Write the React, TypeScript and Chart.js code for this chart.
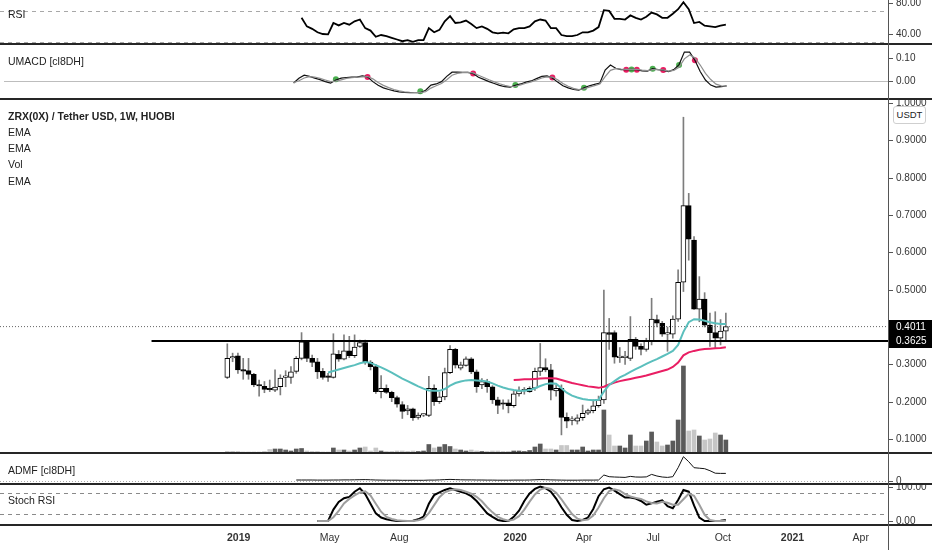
import { useEffect, useRef } from "react";
import { Chart, registerables } from "chart.js";

Chart.register(...registerables);

const FONT = "'Liberation Sans', Arial, sans-serif";
const DAY = 86400000;
const ORIGIN = Date.UTC(2019, 0, 1);
const dayOf = (t: number) => (t - ORIGIN) / DAY;

// visible time window and the bottom axis ticks
const X_MIN = dayOf(Date.UTC(2018, 1, 20));
const X_MAX = dayOf(Date.UTC(2021, 4, 7));
const tickDates = [
  Date.UTC(2019, 0, 1), Date.UTC(2019, 4, 1), Date.UTC(2019, 7, 1),
  Date.UTC(2020, 0, 1), Date.UTC(2020, 3, 1), Date.UTC(2020, 6, 1),
  Date.UTC(2020, 9, 1), Date.UTC(2021, 0, 1), Date.UTC(2021, 3, 1),
];
const tickLabels = ["2019", "May", "Aug", "2020", "Apr", "Jul", "Oct", "2021", "Apr"];

// ZRX/USDT weekly candles, first bar = week of 2018-12-17
const FIRST_WEEK = Date.UTC(2018, 11, 17);
const open = [
  0.265, 0.317, 0.323, 0.284, 0.283, 0.273, 0.244, 0.241, 0.233, 0.231,
  0.240, 0.265, 0.265, 0.281, 0.316, 0.360, 0.316, 0.307, 0.281, 0.266,
  0.265, 0.327, 0.314, 0.336, 0.323, 0.348, 0.358, 0.306, 0.294, 0.227,
  0.236, 0.225, 0.211, 0.192, 0.175, 0.181, 0.158, 0.164, 0.163, 0.236,
  0.200, 0.213, 0.278, 0.340, 0.290, 0.297, 0.315, 0.280, 0.245, 0.254,
  0.240, 0.205, 0.194, 0.197, 0.189, 0.221, 0.229, 0.227, 0.236, 0.281,
  0.291, 0.285, 0.229, 0.236, 0.158, 0.150, 0.148, 0.157, 0.169, 0.176,
  0.189, 0.205, 0.385, 0.385, 0.318, 0.318, 0.316, 0.367, 0.348, 0.340,
  0.361, 0.420, 0.410, 0.381, 0.381, 0.421, 0.520, 0.725, 0.633, 0.448,
  0.475, 0.405, 0.385, 0.370, 0.389,
];
const high = [
  0.355, 0.330, 0.330, 0.316, 0.316, 0.276, 0.258, 0.254, 0.258, 0.285,
  0.272, 0.283, 0.294, 0.321, 0.385, 0.364, 0.325, 0.316, 0.289, 0.276,
  0.382, 0.337, 0.379, 0.375, 0.379, 0.365, 0.365, 0.310, 0.300, 0.270,
  0.245, 0.228, 0.215, 0.200, 0.190, 0.183, 0.170, 0.167, 0.268, 0.245,
  0.225, 0.290, 0.350, 0.343, 0.306, 0.320, 0.318, 0.285, 0.262, 0.260,
  0.243, 0.212, 0.205, 0.205, 0.228, 0.240, 0.238, 0.240, 0.290, 0.356,
  0.315, 0.300, 0.245, 0.245, 0.170, 0.160, 0.165, 0.191, 0.180, 0.205,
  0.215, 0.499, 0.423, 0.390, 0.345, 0.335, 0.428, 0.372, 0.355, 0.370,
  0.477, 0.432, 0.415, 0.400, 0.430, 0.553, 0.962, 0.758, 0.642, 0.535,
  0.492, 0.437, 0.441, 0.420, 0.437,
];
const low = [
  0.262, 0.307, 0.276, 0.260, 0.260, 0.240, 0.215, 0.224, 0.227, 0.227,
  0.218, 0.240, 0.249, 0.276, 0.312, 0.307, 0.294, 0.262, 0.260, 0.254,
  0.263, 0.308, 0.312, 0.318, 0.318, 0.345, 0.300, 0.285, 0.222, 0.210,
  0.222, 0.200, 0.185, 0.155, 0.165, 0.150, 0.153, 0.160, 0.160, 0.190,
  0.195, 0.205, 0.275, 0.290, 0.285, 0.295, 0.275, 0.225, 0.235, 0.225,
  0.195, 0.168, 0.180, 0.170, 0.185, 0.215, 0.220, 0.225, 0.230, 0.270,
  0.280, 0.205, 0.215, 0.111, 0.130, 0.138, 0.140, 0.150, 0.165, 0.170,
  0.185, 0.195, 0.340, 0.303, 0.305, 0.300, 0.310, 0.340, 0.325, 0.335,
  0.352, 0.400, 0.375, 0.335, 0.370, 0.415, 0.495, 0.579, 0.447, 0.414,
  0.400, 0.348, 0.345, 0.352, 0.365,
];
const close = [
  0.316, 0.320, 0.285, 0.282, 0.273, 0.245, 0.242, 0.233, 0.232, 0.239,
  0.263, 0.266, 0.280, 0.316, 0.360, 0.316, 0.305, 0.280, 0.265, 0.265,
  0.328, 0.314, 0.336, 0.323, 0.346, 0.358, 0.306, 0.294, 0.227, 0.236,
  0.225, 0.211, 0.193, 0.174, 0.181, 0.157, 0.164, 0.165, 0.236, 0.200,
  0.213, 0.278, 0.340, 0.298, 0.299, 0.315, 0.280, 0.240, 0.254, 0.240,
  0.205, 0.190, 0.193, 0.189, 0.221, 0.230, 0.231, 0.236, 0.281, 0.291,
  0.285, 0.231, 0.236, 0.158, 0.148, 0.151, 0.157, 0.169, 0.176, 0.189,
  0.205, 0.385, 0.380, 0.319, 0.322, 0.320, 0.367, 0.348, 0.340, 0.362,
  0.421, 0.410, 0.381, 0.382, 0.421, 0.520, 0.725, 0.635, 0.448, 0.475,
  0.405, 0.385, 0.370, 0.389, 0.4011,
];
// volume, millions of ZRX
const volume = [
  0.1, 0.1, 0.15, 0.1, 0.1, 0.1, 0.1, 0.15, 0.35, 0.4,
  0.4, 0.3, 0.2, 0.4, 0.45, 0.2, 0.15, 0.15, 0.1, 0.1,
  0.5, 0.3, 0.3, 0.2, 0.3, 0.5, 0.6, 0.2, 0.5, 0.2,
  0.15, 0.15, 0.2, 0.2, 0.1, 0.2, 0.15, 0.2, 0.85, 0.5,
  0.6, 0.85, 0.65, 0.4, 0.3, 0.2, 0.3, 0.2, 0.15, 0.15,
  0.2, 0.2, 0.15, 0.15, 0.2, 0.2, 0.15, 0.25, 0.6, 0.9,
  0.4, 0.4, 0.3, 0.75, 0.75, 0.3, 0.3, 0.6, 0.2, 0.3,
  0.3, 4.3, 1.8, 0.7, 0.7, 0.5, 1.8, 0.7, 0.7, 1.2,
  2.1, 1.1, 0.7, 0.8, 1.2, 3.3, 8.7, 2.2, 2.3, 1.7,
  1.3, 1.4, 2.0, 1.8, 1.3,
];

// moving averages (start = index of first week they cover)
const EMA_FAST_START = 19;
const emaFast = [
  0.278, 0.282, 0.286, 0.290, 0.294, 0.298, 0.303, 0.306, 0.304, 0.298,
  0.292, 0.285, 0.278, 0.270, 0.262, 0.255, 0.248, 0.241, 0.235, 0.230,
  0.229, 0.229, 0.234, 0.243, 0.250, 0.254, 0.257, 0.258, 0.257, 0.256,
  0.254, 0.249, 0.243, 0.238, 0.234, 0.231, 0.229, 0.229, 0.231, 0.236,
  0.242, 0.247, 0.249, 0.248, 0.236, 0.224, 0.216, 0.211, 0.207, 0.205,
  0.204, 0.205, 0.227, 0.245, 0.255, 0.265, 0.272, 0.280, 0.287, 0.294,
  0.301, 0.308, 0.314, 0.321, 0.328, 0.336, 0.352, 0.387, 0.413, 0.421,
  0.420, 0.417, 0.413, 0.410, 0.408, 0.408,
];
const EMA_SLOW_START = 54;
const emaSlow = [
  0.258, 0.259, 0.260, 0.260, 0.261, 0.262, 0.263, 0.263, 0.262, 0.258,
  0.254, 0.250, 0.247, 0.244, 0.241, 0.239, 0.237, 0.240, 0.246, 0.251,
  0.255, 0.258, 0.261, 0.264, 0.267, 0.270, 0.274, 0.278, 0.282, 0.286,
  0.293, 0.305, 0.324, 0.332, 0.336, 0.339, 0.341, 0.342, 0.343, 0.344,
  0.346,
];
const LEVEL = 0.3625;
const RAY_START = Date.UTC(2018, 8, 8);
const priceTicks = [1.0, 0.9, 0.8, 0.7, 0.6, 0.5, 0.3, 0.2, 0.1];

// RSI
const RSI_START = 14;
const rsi = [
  60.9, 49.8, 46.7, 42.2, 40.0, 39.6, 54.2, 51.1, 54.2, 52.0,
  56.4, 58.7, 47.6, 44.4, 36.4, 38.7, 37.3, 35.1, 32.9, 30.7,
  32.0, 29.8, 32.0, 32.0, 47.6, 42.2, 45.3, 56.4, 63.1, 54.2,
  55.1, 57.3, 52.9, 47.6, 49.8, 46.7, 42.2, 40.9, 41.8, 40.9,
  46.0, 47.6, 47.6, 49.8, 56.4, 58.7, 57.3, 47.6, 47.6, 38.7,
  37.3, 37.3, 38.7, 42.2, 42.2, 44.4, 48.9, 70.7, 69.8, 59.6,
  59.6, 58.7, 64.0, 60.9, 58.7, 62.2, 67.6, 65.3, 60.9, 60.9,
  66.2, 72.0, 81.0, 72.0, 54.2, 55.6, 50.7, 49.8, 48.9, 50.7,
  52.0,
];

// UMACD [cl8DH]
const MACD_START = 12;
const umacd = [
  -0.010, 0.011, 0.024, 0.019, 0.011, 0.005, -0.004, -0.010, 0.003, 0.011,
  0.014, 0.016, 0.016, 0.021, 0.017, -0.004, -0.020, -0.031, -0.038, -0.044,
  -0.048, -0.051, -0.052, -0.052, -0.052, -0.041, -0.019, -0.014, -0.004, 0.019,
  0.037, 0.037, 0.036, 0.036, 0.031, 0.015, 0.006, -0.004, -0.012, -0.020,
  -0.026, -0.028, -0.020, -0.014, -0.006, -0.001, 0.009, 0.019, 0.021, 0.012,
  -0.006, -0.022, -0.031, -0.038, -0.041, -0.031, -0.022, -0.016, -0.010, 0.046,
  0.068, 0.054, 0.048, 0.048, 0.049, 0.048, 0.043, 0.042, 0.052, 0.048,
  0.046, 0.040, 0.048, 0.070, 0.124, 0.124, 0.089, 0.040, 0.003, -0.019,
  -0.028, -0.026, -0.022,
];
const umacdSignal = [
  -0.008, 0.000, 0.012, 0.018, 0.016, 0.010, 0.003, -0.004, -0.002, 0.004,
  0.010, 0.013, 0.015, 0.017, 0.018, 0.008, -0.008, -0.020, -0.030, -0.038,
  -0.044, -0.048, -0.050, -0.051, -0.052, -0.047, -0.032, -0.022, -0.012, 0.004,
  0.024, 0.032, 0.035, 0.036, 0.034, 0.024, 0.014, 0.004, -0.005, -0.013,
  -0.020, -0.025, -0.024, -0.018, -0.011, -0.005, 0.003, 0.012, 0.017, 0.016,
  0.004, -0.012, -0.024, -0.033, -0.038, -0.035, -0.028, -0.021, -0.014, 0.018,
  0.045, 0.052, 0.050, 0.049, 0.049, 0.049, 0.046, 0.044, 0.048, 0.048,
  0.047, 0.042, 0.045, 0.058, 0.095, 0.112, 0.100, 0.068, 0.032, 0.005,
  -0.015, -0.022, -0.023,
];
const crossUpWeek = [20, 36, 54, 67, 76, 80, 85];
const crossUpValue = [0.006, -0.046, -0.019, -0.031, 0.049, 0.052, 0.068];
const crossDownWeek = [26, 46, 61, 75, 77, 82, 88];
const crossDownValue = [0.016, 0.031, 0.014, 0.048, 0.048, 0.046, 0.089];

// ADMF [cl8DH]
const ADMF_START = 13;
const admf = [
  0.007, 0.007, 0.007, 0.007, 0.006, 0.006, 0.006, 0.007, 0.007, 0.008,
  0.008, 0.009, 0.010, 0.011, 0.009, 0.007, 0.006, 0.005, 0.005, 0.005,
  0.004, 0.004, 0.004, 0.004, 0.004, 0.006, 0.006, 0.008, 0.011, 0.013,
  0.011, 0.009, 0.008, 0.008, 0.007, 0.007, 0.006, 0.006, 0.005, 0.005,
  0.005, 0.006, 0.006, 0.006, 0.007, 0.009, 0.011, 0.010, 0.008, 0.007,
  0.006, 0.005, 0.005, 0.005, 0.006, 0.006, 0.006, 0.007, 0.057, 0.040,
  0.037, 0.035, 0.033, 0.043, 0.037, 0.036, 0.038, 0.063, 0.047, 0.037,
  0.033, 0.040, 0.130, 0.240, 0.190, 0.130, 0.125, 0.120, 0.100, 0.075,
  0.073, 0.073,
];

// Stoch RSI
const STOCH_START = 17;
const stochK = [
  0, 0, 0, 33, 55, 66, 70, 85, 95, 78,
  50, 22, 10, 5, 2, 0, 0, 0, 1, 5,
  13, 50, 75, 83, 90, 95, 90, 85, 80, 72,
  58, 40, 22, 12, 3, 0, 0, 12, 30, 58,
  80, 93, 100, 95, 85, 65, 40, 18, 3, 0,
  3, 10, 35, 72, 92, 97, 88, 78, 68, 68,
  65, 58, 47, 51, 56, 60, 43, 37, 61, 90,
  85, 45, 10, 0, 0, 0, 1, 3,
];
const stochD = [
  0, 0, 0, 11, 29, 51, 64, 74, 83, 86,
  74, 50, 27, 12, 6, 2, 1, 0, 0, 2,
  6, 23, 46, 69, 83, 89, 92, 90, 85, 79,
  70, 57, 40, 25, 12, 5, 1, 4, 14, 33,
  56, 77, 91, 96, 93, 82, 63, 41, 20, 7,
  2, 4, 16, 39, 66, 87, 92, 88, 78, 71,
  67, 64, 57, 52, 51, 56, 53, 47, 47, 63,
  79, 73, 47, 18, 3, 0, 0, 1,
];

const weeks = open.map((_, i) => dayOf(FIRST_WEEK) + 7 * i);
const rising = open.map((o, i) => close[i] >= o);
const pts = (vals: number[], start: number) => vals.map((y, i) => ({ x: weeks[start + i], y }));

function xScale(show: boolean): any {
  return {
    type: "linear",
    min: X_MIN,
    max: X_MAX,
    offset: false,
    display: show,
    grid: { display: false, drawTicks: false, offset: false },
    border: { display: false },
    afterBuildTicks: (scale: any) => {
      scale.ticks = tickDates.map((t) => ({ value: dayOf(t) }));
    },
    afterFit: (scale: any) => {
      scale.height = show ? 25 : 0;
    },
    ticks: {
      autoSkip: false,
      maxRotation: 0,
      padding: 7,
      color: "#333",
      callback: (_v: any, i: number) => tickLabels[i],
      font: (ctx: any) => ({
        family: FONT,
        size: 10.5,
        weight: /^\d/.test(tickLabels[ctx.index] || "") ? "bold" : "normal",
      }),
    },
  };
}

function yScale(min: number, max: number): any {
  return {
    position: "right",
    min,
    max,
    grid: { display: false },
    ticks: { display: false },
    border: { display: false },
    afterFit: (scale: any) => {
      scale.width = 44;
    },
  };
}

// draws level lines, right-hand tick labels and price boxes from the y scale
function panelPlugin(cfg: any) {
  return {
    id: "panel",
    beforeDatasetsDraw(chart: any) {
      const { ctx, chartArea: a } = chart;
      const y = chart.scales.y;
      (cfg.levels || []).forEach((l: any) => {
        const py = Math.round(y.getPixelForValue(l.value)) + 0.5;
        ctx.save();
        ctx.beginPath();
        ctx.strokeStyle = l.color;
        ctx.lineWidth = 1;
        ctx.setLineDash(l.dash || []);
        ctx.moveTo(a.left, py);
        ctx.lineTo(a.right, py);
        ctx.stroke();
        ctx.restore();
      });
    },
    afterDraw(chart: any) {
      const { ctx, chartArea: a, width } = chart;
      const y = chart.scales.y;
      ctx.save();
      ctx.font = `10px ${FONT}`;
      ctx.textBaseline = "middle";
      ctx.textAlign = "left";
      (cfg.ticks || []).forEach((v: number) => {
        const py = Math.round(y.getPixelForValue(v)) + 0.5;
        ctx.strokeStyle = "#555";
        ctx.lineWidth = 1;
        ctx.beginPath();
        ctx.moveTo(a.right, py);
        ctx.lineTo(a.right + 5, py);
        ctx.stroke();
        ctx.fillStyle = "#333";
        ctx.fillText(v.toFixed(cfg.digits), a.right + 8, py);
      });
      (cfg.boxes || []).forEach((v: number) => {
        const py = Math.round(y.getPixelForValue(v));
        ctx.fillStyle = "#000";
        ctx.fillRect(a.right, py - 7, width - a.right, 14);
        ctx.fillStyle = "#fff";
        ctx.fillText(v.toFixed(cfg.digits), a.right + 8, py + 0.5);
      });
      ctx.restore();
    },
  };
}

function lineDs(data: any[], color: string, width: number, extra: any = {}): any {
  return {
    type: "line",
    data,
    borderColor: color,
    borderWidth: width,
    pointRadius: 0,
    tension: 0,
    fill: false,
    ...extra,
  };
}

function baseOptions(min: number, max: number, showX: boolean, extraScales: any = {}): any {
  return {
    responsive: false,
    animation: false,
    events: [],
    layout: { padding: 0 },
    plugins: { legend: { display: false }, tooltip: { enabled: false } },
    scales: { x: xScale(showX), y: yScale(min, max), ...extraScales },
  };
}

const titleStyle: any = {
  position: "absolute",
  left: 8,
  fontSize: 10.5,
  lineHeight: "13px",
  color: "#222",
  whiteSpace: "nowrap",
};

export default function App() {
  const rsiRef = useRef<HTMLCanvasElement>(null);
  const macdRef = useRef<HTMLCanvasElement>(null);
  const mainRef = useRef<HTMLCanvasElement>(null);
  const admfRef = useRef<HTMLCanvasElement>(null);
  const stochRef = useRef<HTMLCanvasElement>(null);

  useEffect(() => {
    if (!rsiRef.current || !macdRef.current || !mainRef.current || !admfRef.current || !stochRef.current) return;
    const charts: Chart[] = [];
    const lastClose = close[close.length - 1];

    charts.push(
      new Chart(rsiRef.current, {
        type: "line",
        data: { datasets: [lineDs(pts(rsi, RSI_START), "#000", 1.8)] },
        options: baseOptions(27.1, 83.9, false),
        plugins: [
          panelPlugin({
            ticks: [80, 40],
            digits: 2,
            levels: [
              { value: 70, color: "#a8a8a8", dash: [4, 4] },
              { value: 30, color: "#a8a8a8", dash: [4, 4] },
            ],
          }),
        ],
      } as any)
    );

    charts.push(
      new Chart(macdRef.current, {
        type: "line",
        data: {
          datasets: [
            lineDs(pts(umacdSignal, MACD_START), "#8f8f8f", 1.2),
            lineDs(pts(umacd, MACD_START), "#111", 1.2),
            lineDs(crossUpWeek.map((w, i) => ({ x: weeks[w], y: crossUpValue[i] })), "#4caf50", 0, {
              showLine: false,
              pointRadius: 3,
              pointBackgroundColor: "#4caf50",
              pointBorderWidth: 0,
            }),
            lineDs(crossDownWeek.map((w, i) => ({ x: weeks[w], y: crossDownValue[i] })), "#e91e63", 0, {
              showLine: false,
              pointRadius: 3,
              pointBackgroundColor: "#e91e63",
              pointBorderWidth: 0,
            }),
          ],
        },
        options: baseOptions(-0.0619, 0.1419, false),
        plugins: [
          panelPlugin({ ticks: [0.1, 0], digits: 2, levels: [{ value: 0, color: "#bdbdbd" }] }),
        ],
      } as any)
    );

    charts.push(
      new Chart(mainRef.current, {
        type: "bar",
        data: {
          datasets: [
            {
              type: "bar",
              data: weeks.map((x, i) => ({ x, y: [low[i], high[i]] })),
              backgroundColor: "#7d7d7d",
              barThickness: 1,
              grouped: false,
              order: 6,
            },
            {
              type: "bar",
              data: weeks.map((x, i) => ({ x, y: [open[i], close[i]] })),
              backgroundColor: rising.map((u) => (u ? "#ffffff" : "#000000")),
              borderColor: "#000",
              borderWidth: 1,
              borderSkipped: false,
              barThickness: 5,
              minBarLength: 1.5,
              grouped: false,
              order: 5,
            },
            {
              type: "bar",
              yAxisID: "vol",
              data: weeks.map((x, i) => ({ x, y: volume[i] })),
              backgroundColor: rising.map((u) => (u ? "#5a5a5a" : "#c6c6c6")),
              barThickness: 4,
              grouped: false,
              order: 9,
            },
            lineDs(pts(emaFast, EMA_FAST_START), "#5bbfbd", 2, { order: 2 }),
            lineDs(pts(emaSlow, EMA_SLOW_START), "#e91e63", 2, { order: 2 }),
            lineDs(
              [
                { x: dayOf(RAY_START), y: LEVEL },
                { x: X_MAX, y: LEVEL },
              ],
              "#000",
              2,
              { order: 1 }
            ),
            lineDs(
              [
                { x: X_MIN, y: lastClose },
                { x: X_MAX, y: lastClose },
              ],
              "#666",
              1,
              { borderDash: [1, 2], order: 3 }
            ),
          ],
        },
        options: baseOptions(0.0625, 1.0108, false, {
          vol: { type: "linear", axis: "y", display: false, min: 0, max: 35.4 },
        }),
        plugins: [panelPlugin({ ticks: priceTicks, digits: 4, boxes: [lastClose, LEVEL] })],
      } as any)
    );

    charts.push(
      new Chart(admfRef.current, {
        type: "line",
        data: { datasets: [lineDs(pts(admf, ADMF_START), "#111", 1)] },
        options: baseOptions(-0.033, 0.277, false),
        plugins: [
          panelPlugin({ ticks: [0], digits: 0, levels: [{ value: 0, color: "#aaa", dash: [1, 2] }] }),
        ],
      } as any)
    );

    charts.push(
      new Chart(stochRef.current, {
        type: "line",
        data: {
          datasets: [
            lineDs(pts(stochD, STOCH_START), "#9e9e9e", 2),
            lineDs(pts(stochK, STOCH_START), "#000", 2),
          ],
        },
        options: baseOptions(-11.6, 107.25, true),
        plugins: [
          panelPlugin({
            ticks: [100, 0],
            digits: 2,
            levels: [
              { value: 80, color: "#8a8a8a", dash: [4, 4] },
              { value: 20, color: "#8a8a8a", dash: [4, 4] },
            ],
          }),
        ],
      } as any)
    );

    return () => {
      charts.forEach((c) => c.destroy());
    };
  }, []);

  const canvasStyle = (top: number): any => ({ position: "absolute", left: 0, top });

  return (
    <div
      style={{
        position: "absolute",
        left: 0,
        top: 0,
        width: 932,
        height: 550,
        overflow: "hidden",
        background: "#fff",
        fontFamily: FONT,
      }}
    >
      <canvas ref={rsiRef} width={932} height={44} style={canvasStyle(0)} />
      <canvas ref={macdRef} width={932} height={55} style={canvasStyle(44)} />
      <canvas ref={mainRef} width={932} height={354} style={canvasStyle(99)} />
      <canvas ref={admfRef} width={932} height={31} style={canvasStyle(453)} />
      <canvas ref={stochRef} width={932} height={66} style={canvasStyle(484)} />

      {[44, 99, 453, 484, 525].map((y) => (
        <div
          key={y}
          style={{ position: "absolute", left: 0, top: y - 1, width: 932, height: 2, background: "#262626" }}
        />
      ))}
      <div style={{ position: "absolute", left: 888, top: 0, width: 1, height: 550, background: "#555" }} />

      <div style={{ ...titleStyle, top: 8 }}>RSI</div>
      <div style={{ ...titleStyle, top: 55 }}>UMACD [cl8DH]</div>
      <div style={{ ...titleStyle, top: 107.5, lineHeight: "16.3px" }}>
        <div style={{ fontWeight: "bold" }}>ZRX(0X) / Tether USD, 1W, HUOBI</div>
        <div>EMA</div>
        <div>EMA</div>
        <div>Vol</div>
        <div>EMA</div>
      </div>
      <div style={{ ...titleStyle, top: 463.5 }}>ADMF [cl8DH]</div>
      <div style={{ ...titleStyle, top: 493.5 }}>Stoch RSI</div>

      <div
        style={{
          position: "absolute",
          left: 893,
          top: 106,
          width: 31,
          height: 16,
          border: "1px solid #cfcfcf",
          borderRadius: 3,
          background: "#fff",
          fontSize: 9.5,
          lineHeight: "16px",
          textAlign: "center",
          color: "#222",
        }}
      >
        USDT
      </div>
    </div>
  );
}
